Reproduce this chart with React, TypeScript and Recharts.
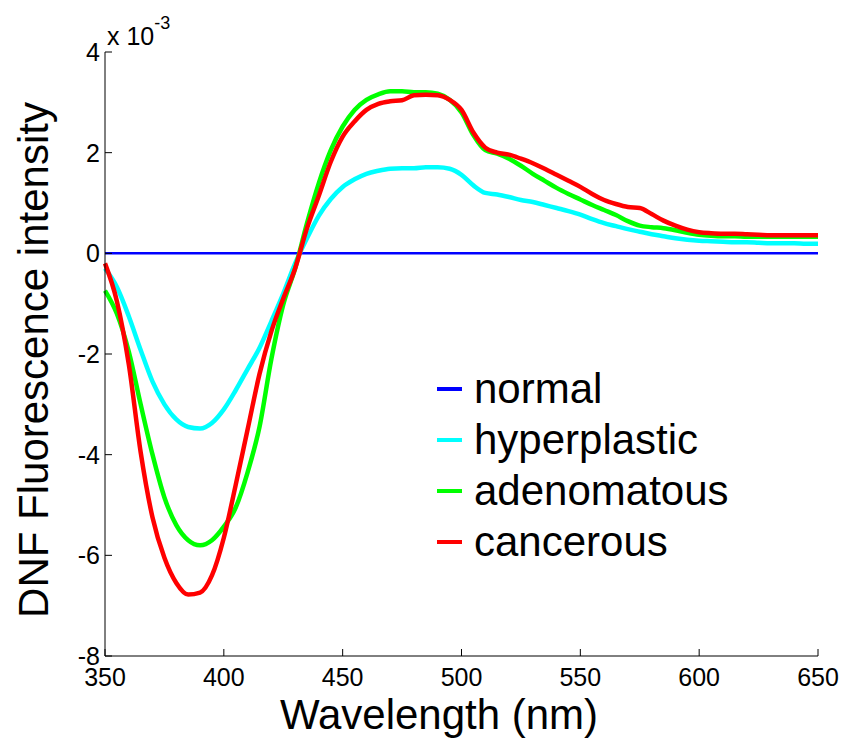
import { Line, LineChart, XAxis, YAxis } from 'recharts';

// values are in units of 1e-3 (the axis carries the "x 10^-3" multiplier)
const WAVELENGTHS = [
  350, 355, 360, 365, 370, 375, 380, 385, 390, 395, 400, 405, 410, 415, 420, 425, 430, 435, 440, 445,
  450, 455, 460, 465, 470, 475, 480, 485, 490, 495, 500, 505, 510, 515, 520, 525, 530, 535, 540, 545,
  550, 555, 560, 565, 570, 575, 580, 585, 590, 595, 600, 605, 610, 615, 620, 625, 630, 635, 640, 645, 650,
];

const NORMAL = WAVELENGTHS.map(() => 0);

const HYPERPLASTIC = [
  -0.3, -0.67, -1.25, -1.92, -2.55, -3.0, -3.3, -3.45, -3.48, -3.37, -3.1, -2.72, -2.3, -1.88, -1.35, -0.8, -0.2, 0.3, 0.75, 1.08,
  1.32, 1.47, 1.58, 1.64, 1.68, 1.69, 1.69, 1.71, 1.71, 1.68, 1.56, 1.35, 1.2, 1.17, 1.12, 1.06, 1.02, 0.96, 0.9, 0.84,
  0.77, 0.68, 0.6, 0.54, 0.48, 0.43, 0.38, 0.34, 0.3, 0.27, 0.25, 0.24, 0.23, 0.22, 0.22, 0.21, 0.2, 0.2, 0.2, 0.19, 0.19,
];

const ADENOMATOUS = [
  -0.74, -1.2, -1.95, -3.0, -4.0, -4.85, -5.4, -5.7, -5.8, -5.7, -5.43, -5.05, -4.35, -3.45, -2.1, -1.02, -0.3, 0.6, 1.4, 2.05,
  2.52, 2.85, 3.05, 3.16, 3.22, 3.22, 3.2, 3.2, 3.17, 3.05, 2.8, 2.35, 2.05, 1.98, 1.88, 1.74, 1.58, 1.44, 1.3, 1.18,
  1.07, 0.96, 0.86, 0.76, 0.64, 0.55, 0.52, 0.5, 0.46, 0.41, 0.37, 0.35, 0.34, 0.34, 0.33, 0.33, 0.33, 0.33, 0.33, 0.33, 0.33,
];

const CANCEROUS = [
  -0.2, -0.95, -2.2, -3.95, -5.25, -6.05, -6.55, -6.78, -6.74, -6.4, -5.65, -4.6, -3.5, -2.4, -1.55, -0.9, -0.3, 0.5, 1.15, 1.82,
  2.32, 2.62, 2.85, 2.97, 3.02, 3.04, 3.14, 3.15, 3.14, 3.05, 2.85, 2.4, 2.1, 2.0, 1.96, 1.88, 1.79, 1.68, 1.56, 1.44,
  1.32, 1.18, 1.06, 0.98, 0.92, 0.9, 0.78, 0.65, 0.55, 0.47, 0.42, 0.4, 0.39, 0.39, 0.38, 0.37, 0.36, 0.36, 0.36, 0.36, 0.36,
];

const X_TICKS = [350, 400, 450, 500, 550, 600, 650];
const Y_TICKS = [-8, -6, -4, -2, 0, 2, 4];

const SERIES = [
  { key: 'normal', color: '#0000ff', width: 2.5, values: NORMAL },
  { key: 'hyperplastic', color: '#00ffff', width: 4.5, values: HYPERPLASTIC },
  { key: 'adenomatous', color: '#00ff00', width: 4.5, values: ADENOMATOUS },
  { key: 'cancerous', color: '#ff0000', width: 4.5, values: CANCEROUS },
];

const FONT = '"Liberation Sans", Arial, Helvetica, sans-serif';

const data = WAVELENGTHS.map((wl, i) => {
  const row: Record<string, number> = { wl };
  SERIES.forEach((s) => (row[s.key] = s.values[i]));
  return row;
});

// inward tick marks, MATLAB style
function XTick({ x, y, payload }: any) {
  return (
    <g>
      <line x1={x} y1={y} x2={x} y2={y - 7} stroke="#000" strokeWidth={1} />
      <text x={x} y={y + 12} dy="0.71em" textAnchor="middle" fontSize={25} fontFamily={FONT} fill="#000">
        {payload.value}
      </text>
    </g>
  );
}

function YTick({ x, y, payload }: any) {
  return (
    <g>
      <line x1={x} y1={y} x2={x + 7} y2={y} stroke="#000" strokeWidth={1} />
      <text x={x - 5} y={y} dy="0.355em" textAnchor="end" fontSize={25} fontFamily={FONT} fill="#000">
        {payload.value}
      </text>
    </g>
  );
}

export default function App() {
  return (
    <div style={{ position: 'absolute', left: 0, top: 0, width: 843, height: 739, background: '#fff' }}>
      <LineChart width={843} height={739} data={data} margin={{ top: 52, right: 25, bottom: 0, left: 0 }}>
        <XAxis
          dataKey="wl"
          type="number"
          domain={[350, 650]}
          ticks={X_TICKS}
          interval={0}
          height={83}
          tickSize={0}
          tickMargin={0}
          tick={<XTick />}
          axisLine={{ stroke: '#000', strokeWidth: 1 }}
        />
        <YAxis
          type="number"
          domain={[-8, 4]}
          ticks={Y_TICKS}
          interval={0}
          width={105}
          tickSize={0}
          tickMargin={0}
          tick={<YTick />}
          axisLine={{ stroke: '#000', strokeWidth: 1 }}
        />
        {SERIES.map((s) => (
          <Line
            key={s.key}
            dataKey={s.key}
            stroke={s.color}
            strokeWidth={s.width}
            dot={false}
            type="monotone"
            isAnimationActive={false}
          />
        ))}
      </LineChart>
      {/* legend sits inside the plot area, lower right */}
      <div
        style={{ position: 'absolute', left: 437, top: 363, fontFamily: FONT, fontSize: 42, color: '#000', lineHeight: '51px' }}
      >
        {SERIES.map((s) => (
          <div key={s.key} style={{ display: 'flex', alignItems: 'center' }}>
            <span style={{ display: 'inline-block', width: 25, height: 4, background: s.color, marginRight: 12 }} />
            {s.key}
          </div>
        ))}
      </div>
      <svg width={843} height={739} style={{ position: 'absolute', left: 0, top: 0, pointerEvents: 'none' }}>
        <text x={107} y={45} fontSize={25} fontFamily={FONT} fill="#000">
          x 10
          <tspan dy={-16} fontSize={18}>-3</tspan>
        </text>
        <text
          transform="translate(48, 360) rotate(-90)"
          textAnchor="middle"
          fontSize={42}
          fontFamily={FONT}
          fill="#000"
        >
          DNF Fluorescence intensity
        </text>
        <text x={439} y={729} textAnchor="middle" fontSize={42} fontFamily={FONT} fill="#000">
          Wavelength (nm)
        </text>
      </svg>
    </div>
  );
}
